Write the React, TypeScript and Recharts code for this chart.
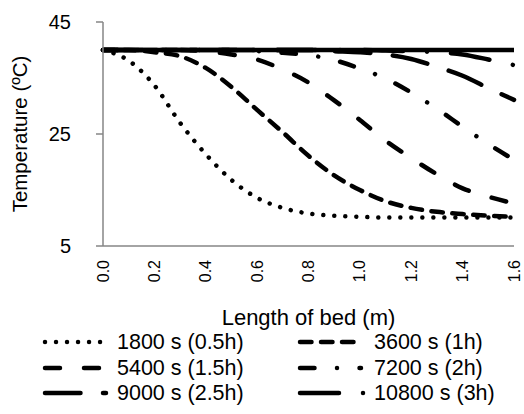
import React from 'react';
import { LineChart, Line, XAxis, YAxis, Legend } from 'recharts';

const lengthM = [0, 0.1, 0.2, 0.3, 0.4, 0.5, 0.6, 0.7, 0.8, 0.9, 1.0, 1.1, 1.2, 1.3, 1.4, 1.5, 1.6];
const t1800 = [40, 38.1, 33.7, 27.0, 21.4, 16.8, 13.6, 11.8, 10.8, 10.4, 10.2, 10.1, 10.1, 10.1, 10.1, 10.1, 10.1];
const t3600 = [40, 40, 39.6, 38.9, 36.8, 33.4, 29.3, 25.3, 21.1, 17.6, 15.0, 13.0, 11.8, 11.1, 10.7, 10.4, 10.2];
const t5400 = [40, 40, 40, 40, 39.8, 39.2, 38.3, 36.5, 34.2, 31.0, 27.5, 23.8, 20.7, 17.8, 15.3, 13.8, 12.6];
const t7200 = [40, 40, 40, 40, 40, 40, 39.8, 39.5, 39.1, 38.2, 36.7, 34.9, 32.4, 29.5, 26.3, 23.2, 20.4];
const t9000 = [40, 40, 40, 40, 40, 40, 40, 40, 40, 39.8, 39.6, 39.2, 38.4, 37.0, 35.4, 33.2, 31.1];
const t10800 = [40, 40, 40, 40, 40, 40, 40, 40, 40, 40, 40, 39.9, 39.8, 39.6, 39.2, 38.3, 37.3];
const tInlet = [40, 40, 40, 40, 40, 40, 40, 40, 40, 40, 40, 40, 40, 40, 40, 40, 40];

const seriesNames = ['1800 s (0.5h)', '3600 s (1h)', '5400 s (1.5h)', '7200 s (2h)', '9000 s (2.5h)', '10800 s (3h)'];
const xTicks = [0, 0.2, 0.4, 0.6, 0.8, 1.0, 1.2, 1.4, 1.6];
const yTicks = [5, 25, 45];

const FONT = '"Liberation Sans", Arial, sans-serif';
const AXIS = '#868686';

const data = lengthM.map((x, i) => ({
  x,
  s1800: t1800[i],
  s3600: t3600[i],
  s5400: t5400[i],
  s7200: t7200[i],
  s9000: t9000[i],
  s10800: t10800[i],
  inlet: tInlet[i],
}));

const series = [
  { key: 's1800', name: seriesNames[0], dash: '0.01 11', sample: 60 },
  { key: 's3600', name: seriesNames[1], dash: '11.5 9.5', sample: 58 },
  { key: 's5400', name: seriesNames[2], dash: '15 24', sample: 58 },
  { key: 's7200', name: seriesNames[3], dash: '14.5 22.5 0.01 22.5', sample: 61 },
  { key: 's9000', name: seriesNames[4], dash: '35.5 22.5', sample: 61 },
  { key: 's10800', name: seriesNames[5], dash: '39 24 0.01 24', sample: 66 },
];

const XTick = (props: any) => {
  const { x, y, payload } = props;
  return (
    <g transform={`translate(${x},${y})`}>
      <text
        transform="rotate(-90)"
        x={-14}
        y={0}
        textAnchor="end"
        dominantBaseline="central"
        fontSize={16}
        fontFamily={FONT}
        fill="#000"
      >
        {Number(payload.value).toFixed(1)}
      </text>
    </g>
  );
};

const LegendContent = () => {
  const colX = [45, 300];
  const textX = [117, 374];
  const rowY = [14, 40, 65];
  return (
    <svg width={524} height={86} style={{ display: 'block' }}>
      {series.map((s, i) => {
        const col = i % 2;
        const row = Math.floor(i / 2);
        const y = rowY[row];
        return (
          <g key={s.key}>
            <line
              x1={colX[col]}
              x2={colX[col] + s.sample}
              y1={y}
              y2={y}
              stroke="#000"
              strokeWidth={4.5}
              strokeLinecap="round"
              strokeDasharray={s.dash}
            />
            <text x={textX[col]} y={y} dominantBaseline="central" fontSize={21.5} fontFamily={FONT} fill="#000">
              {s.name}
            </text>
          </g>
        );
      })}
    </svg>
  );
};

export default function App() {
  return (
    <div style={{ position: 'absolute', left: 0, top: 0 }}>
      <LineChart
        width={524}
        height={414}
        data={data}
        margin={{ top: 22, right: 10, left: 0, bottom: 78 }}
        style={{ fontFamily: FONT }}
      >
        <XAxis
          dataKey="x"
          type="number"
          domain={[0, 1.6]}
          ticks={xTicks}
          interval={0}
          height={90}
          tickLine={false}
          tickSize={0}
          tickMargin={0}
          axisLine={{ stroke: AXIS, strokeWidth: 1.5 }}
          tick={<XTick />}
          label={{ value: 'Length of bed (m)', position: 'insideTop', offset: 63, style: { fontSize: 22, fill: '#000', fontFamily: FONT } }}
        />
        <YAxis
          type="number"
          domain={[5, 45]}
          ticks={yTicks}
          interval={0}
          width={103}
          tickSize={7}
          tickMargin={25}
          axisLine={{ stroke: AXIS, strokeWidth: 1.5 }}
          tickLine={{ stroke: AXIS, strokeWidth: 1.5 }}
          tick={{ fill: '#000', fontSize: 20, fontFamily: FONT }}
          label={{ value: 'Temperature (ºC)', angle: -90, position: 'insideLeft', offset: 20, style: { textAnchor: 'middle', fontSize: 20.5, fill: '#000', fontFamily: FONT } }}
        />
        <Legend
          layout="horizontal"
          verticalAlign="middle"
          align="center"
          wrapperStyle={{ top: 328, left: 0, width: 524 }}
          content={<LegendContent />}
        />
        <Line
          dataKey="inlet"
          type="monotone"
          stroke="#000"
          strokeWidth={4.5}
          dot={false}
          legendType="none"
          isAnimationActive={false}
        />
        {series.map((s) => (
          <Line
            key={s.key}
            dataKey={s.key}
            name={s.name}
            type="monotone"
            stroke="#000"
            strokeWidth={4.5}
            strokeLinecap="round"
            strokeDasharray={s.dash}
            dot={false}
            isAnimationActive={false}
          />
        ))}
      </LineChart>
    </div>
  );
}
